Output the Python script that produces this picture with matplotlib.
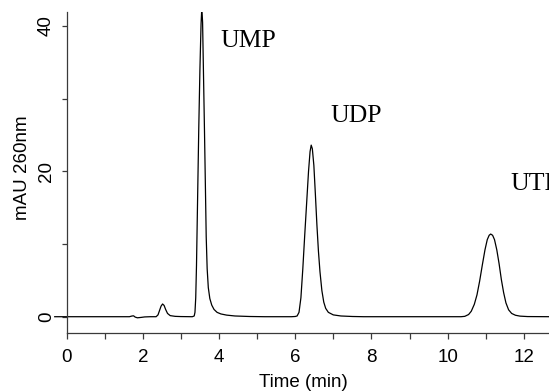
import matplotlib
matplotlib.use("Agg")
import matplotlib.pyplot as plt
from matplotlib.ticker import MultipleLocator

# Traced chromatogram (time in min, absorbance in mAU at 260 nm)
time_min = [
    -0.31, 1.65, 1.72, 1.76, 1.80, 1.86, 1.95, 2.05, 2.20,
    2.35, 2.40, 2.44, 2.48, 2.52, 2.56, 2.60, 2.65, 2.72, 2.85, 3.00,
    3.30, 3.35, 3.37, 3.39, 3.41, 3.44, 3.47, 3.50, 3.53, 3.55, 3.57, 3.59,
    3.62, 3.645, 3.665, 3.69, 3.72, 3.76, 3.81, 3.87, 3.95, 4.05, 4.20, 4.42, 4.80, 5.20,
    5.90, 6.00, 6.05, 6.10, 6.15, 6.20, 6.25, 6.30, 6.35, 6.39, 6.42, 6.45, 6.49,
    6.53, 6.57, 6.61, 6.65, 6.70, 6.75, 6.80, 6.87, 7.00, 7.20, 7.50, 7.80,
    10.35, 10.45, 10.55, 10.62, 10.70, 10.77, 10.84, 10.91, 10.98, 11.04, 11.09,
    11.13, 11.18, 11.23, 11.29, 11.35, 11.41, 11.47, 11.53, 11.60, 11.68, 11.78,
    11.90, 12.10, 12.70,
]
absorbance = [
    0.0, 0.0, 0.10, 0.12, -0.05, -0.15, -0.10, -0.03, 0.0,
    0.0, 0.25, 0.85, 1.45, 1.75, 1.55, 1.0, 0.45, 0.15, 0.05, 0.02,
    0.0, 0.1, 0.6, 2.6, 7.0, 16.5, 26.0, 34.0, 40.3, 42.5, 40.5, 34.5,
    25.5, 17.5, 11.0, 6.6, 4.0, 2.5, 1.6, 1.0, 0.6, 0.38, 0.22, 0.1, 0.03, 0.0,
    0.0, 0.03, 0.1, 0.6, 2.6, 6.6, 11.2, 15.6, 20.0, 22.7, 23.6, 23.1, 20.8,
    16.8, 12.6, 9.0, 6.2, 3.6, 2.0, 1.15, 0.6, 0.25, 0.1, 0.03, 0.0,
    0.0, 0.05, 0.3, 0.75, 1.7, 3.0, 4.9, 7.1, 9.2, 10.6, 11.2,
    11.37, 11.2, 10.6, 9.2, 7.3, 5.1, 3.3, 1.9, 0.95, 0.45, 0.2,
    0.08, 0.02, 0.0,
]

peak_names = ["UMP", "UDP", "UTP"]
label_time = [4.03, 6.92, 11.64]
label_abs = [37.1, 26.8, 17.4]

x_ticks = [0, 2, 4, 6, 8, 10, 12]
y_ticks = [0, 20, 40]

fig = plt.figure(figsize=(5.49, 3.91), dpi=100)
ax = fig.add_axes([0.0969, 0.1476, 0.9031, 0.8225])

ax.plot(time_min, absorbance, color="black", lw=0.9, solid_joinstyle="round")

ax.set_xlim(-0.35, 12.66)
ax.set_ylim(-2.28, 41.95)

spine_col = "#3a3a3a"
ax.spines["top"].set_visible(False)
ax.spines["right"].set_visible(False)
ax.spines["left"].set_position(("data", 0))
ax.spines["bottom"].set_bounds(0, 12.66)
for s in ("left", "bottom"):
    ax.spines[s].set_color(spine_col)
    ax.spines[s].set_linewidth(0.9)

ax.set_xticks(x_ticks)
ax.set_yticks(y_ticks)
ax.xaxis.set_minor_locator(MultipleLocator(1))
ax.yaxis.set_minor_locator(MultipleLocator(10))
ax.tick_params(which="both", direction="out", length=5.5 * 72 / 100,
               width=0.9, color=spine_col)
ax.tick_params(axis="both", which="major", labelsize=13.5)
ax.tick_params(axis="x", which="major", pad=7)
ax.tick_params(axis="y", which="major", pad=4.5, labelrotation=90)
for lbl in ax.get_xticklabels() + ax.get_yticklabels():
    lbl.set_fontfamily("Liberation Sans")
for lbl in ax.get_yticklabels():
    lbl.set_va("center")

ax.set_xlabel("Time (min)", fontsize=13.5, fontfamily="Liberation Sans")
ax.set_ylabel("mAU 260nm", fontsize=13.5, fontfamily="Liberation Sans")
ax.xaxis.set_label_coords(0.5046, -0.128)
ax.yaxis.set_label_coords(-0.0448, 0.5156)

for name, tx, ty in zip(peak_names, label_time, label_abs):
    ax.text(tx, ty, name, fontsize=18.5, fontfamily="Liberation Serif",
            ha="left", va="baseline", clip_on=False)

fig.savefig("out.png", dpi=100)
